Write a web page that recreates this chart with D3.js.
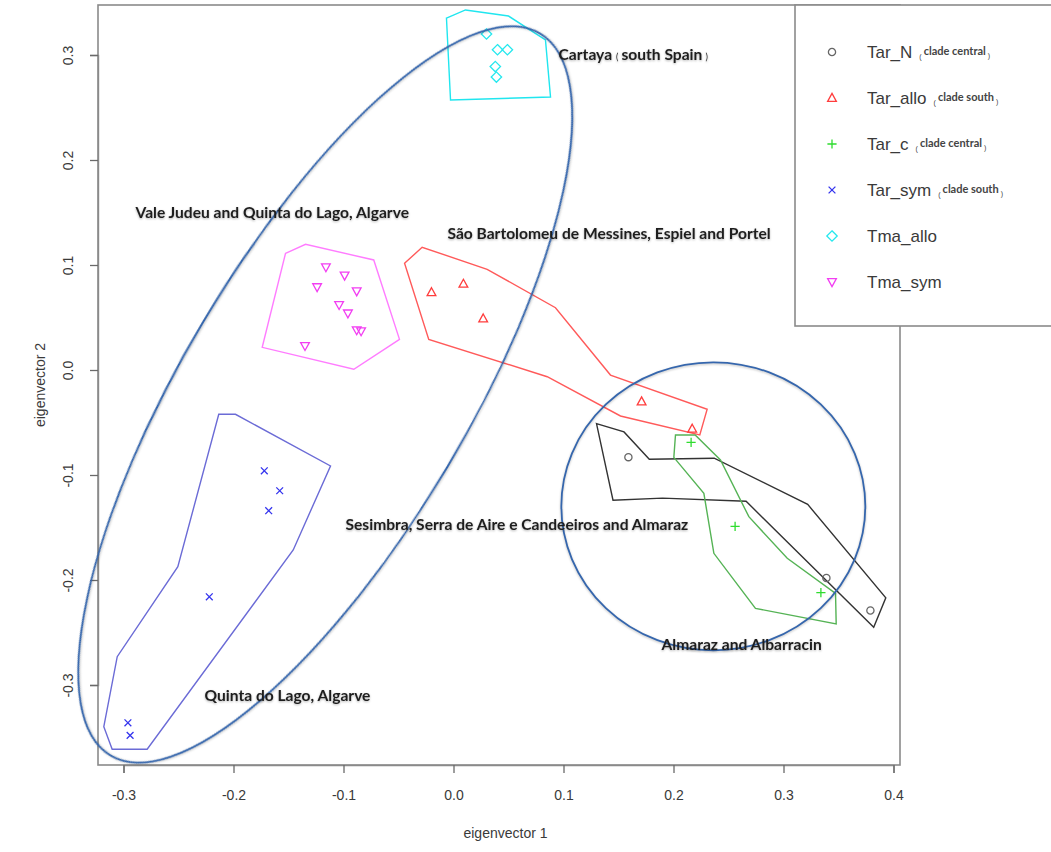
<!DOCTYPE html>
<html>
<head>
<meta charset="utf-8">
<script src="https://cdn.jsdelivr.net/npm/d3@7"></script>
<style>
  html, body { margin: 0; padding: 0; background: #fff; }
  svg { display: block; }
</style>
</head>
<body>
<svg id="chart" width="1051" height="852"></svg>
<script>
// ---- groups and legend ----
const groups = ["Tar_N", "Tar_allo", "Tar_c", "Tar_sym", "Tma_allo", "Tma_sym"];
const cladeNotes = ["clade central", "clade south", "clade central", "clade south", "", ""];

// ---- scores on the first two eigenvectors ----
const tarN_ev1 = [0.159, 0.339, 0.379];
const tarN_ev2 = [-0.083, -0.198, -0.229];
const tarAllo_ev1 = [-0.020, 0.009, 0.027, 0.171, 0.217];
const tarAllo_ev2 = [0.074, 0.082, 0.049, -0.030, -0.056];
const tarC_ev1 = [0.216, 0.256, 0.334];
const tarC_ev2 = [-0.069, -0.149, -0.212];
const tarSym_ev1 = [-0.172, -0.158, -0.168, -0.222, -0.296, -0.294];
const tarSym_ev2 = [-0.096, -0.115, -0.134, -0.216, -0.336, -0.348];
const tmaAllo_ev1 = [0.030, 0.040, 0.049, 0.038, 0.039];
const tmaAllo_ev2 = [0.320, 0.305, 0.305, 0.289, 0.279];
const tmaSym_ev1 = [-0.116, -0.099, -0.124, -0.088, -0.104, -0.096, -0.088, -0.084, -0.135];
const tmaSym_ev2 = [0.098, 0.090, 0.079, 0.075, 0.062, 0.054, 0.038, 0.037, 0.023];

// ---- outline polygons around each group (ev1, ev2) ----
const tarN_outline = [[0.130,-0.051],[0.155,-0.059],[0.178,-0.085],[0.237,-0.084],[0.322,-0.128],[0.393,-0.217],[0.382,-0.245],[0.266,-0.125],[0.190,-0.122],[0.145,-0.124]];
const tarAllo_outline = [[-0.0445,0.1016],[-0.0285,0.1169],[0.0306,0.0959],[0.0927,0.0593],[0.1427,-0.0048],[0.2306,-0.0374],[0.2239,-0.0619],[0.1518,-0.0438],[0.0852,-0.0064],[-0.0225,0.0292]];
const tarC_outline = [[0.2018,-0.0619],[0.2197,-0.0619],[0.2427,-0.0857],[0.2685,-0.1397],[0.3034,-0.1793],[0.3473,-0.2127],[0.3479,-0.2419],[0.2745,-0.2270],[0.2367,-0.1746],[0.2276,-0.1175],[0.2003,-0.0832]];
const tarSym_outline = [[-0.2134,-0.0422],[-0.1982,-0.0422],[-0.1118,-0.0914],[-0.1457,-0.1714],[-0.2785,-0.3612],[-0.3103,-0.3612],[-0.3179,-0.3397],[-0.3057,-0.2730],[-0.2506,-0.1873]];
const tmaAllo_outline = [[-0.0064,0.3352],[0.0109,0.3429],[0.050,0.3371],[0.0836,0.3143],[0.0882,0.2600],[-0.0027,0.2571]];
const tmaSym_outline = [[-0.1527,0.1111],[-0.1345,0.1197],[-0.0725,0.1048],[-0.0491,0.0292],[-0.0906,0.0007],[-0.1739,0.0216]];

// ---- axis ticks ----
const xTicks = [-0.3, -0.2, -0.1, 0.0, 0.1, 0.2, 0.3, 0.4];
const yTicks = [-0.3, -0.2, -0.1, 0.0, 0.1, 0.2, 0.3];

// ---- locality labels (left x, baseline y in ev units) ----
const placeNames = ["Cartaya", "Vale Judeu and Quinta do Lago, Algarve", "São Bartolomeu de Messines, Espiel and Portel",
                    "Sesimbra, Serra de Aire e Candeeiros and Almaraz", "Almaraz and Albarracin", "Quinta do Lago, Algarve"];
const placeNotes = ["south Spain", "", "", "", "", ""];
const place_ev1 = [0.0955, -0.2891, -0.0055, -0.0982, 0.1891, -0.2264];
const place_ev2 = [0.2948, 0.1443, 0.1243, -0.1528, -0.2662, -0.3157];

// ---- encircled regions (centre in ev units) ----
const region_ev1 = [-0.1166, 0.2362];
const region_ev2 = [-0.0233, -0.1298];

// ------------------------------------------------------------------
const svg = d3.select("#chart");
const frame = { left: 98, top: 5, right: 900, bottom: 765 };

const x = d3.scaleLinear().domain([-0.3, 0.4]).range([123.5, 893.5]);
const y = d3.scaleLinear().domain([-0.3, 0.3]).range([685, 55]);

const pointColors = ["#666666", "#ff3d3d", "#2fdc2f", "#3434ee", "#25e8ee", "#f23ef2"];
const outlineColors = ["#333333", "#ff5a5a", "#55b355", "#6b6bd6", "#20e6ef", "#ff7cff"];

const ev1 = [tarN_ev1, tarAllo_ev1, tarC_ev1, tarSym_ev1, tmaAllo_ev1, tmaSym_ev1];
const ev2 = [tarN_ev2, tarAllo_ev2, tarC_ev2, tarSym_ev2, tmaAllo_ev2, tmaSym_ev2];
const outlines = [tarN_outline, tarAllo_outline, tarC_outline, tarSym_outline, tmaAllo_outline, tmaSym_outline];

// plotting symbols in the style of R's pch 1, 2, 3, 4, 5, 6
function symbolPath(i) {
  const s = 4.6;
  switch (i) {
    case 0: { const r = 3.6; return `M${r},0A${r},${r} 0 1,1 ${-r},0A${r},${r} 0 1,1 ${r},0Z`; }
    case 1: return `M0,${-s}L${s*0.95},${s*0.72}L${-s*0.95},${s*0.72}Z`;
    case 2: return `M${-s},0H${s}M0,${-s}V${s}`;
    case 3: { const a = 3.4; return `M${-a},${-a}L${a},${a}M${-a},${a}L${a},${-a}`; }
    case 4: return `M0,${-s-0.6}L${s+0.6},0L0,${s+0.6}L${-s-0.6},0Z`;
    case 5: return `M0,${s}L${s*0.95},${-s*0.72}L${-s*0.95},${-s*0.72}Z`;
  }
}

// frame
svg.append("rect")
  .attr("x", frame.left).attr("y", frame.top)
  .attr("width", frame.right - frame.left).attr("height", frame.bottom - frame.top)
  .attr("fill", "none").attr("stroke", "#8a8a8a").attr("stroke-width", 1.6);

// axes
const tickFmt = d3.format(".1f");
const xAxis = svg.append("g")
  .attr("transform", `translate(0,${frame.bottom})`)
  .call(d3.axisBottom(x).tickValues(xTicks).tickFormat(d => tickFmt(d).replace("−", "-")).tickSizeOuter(0).tickSize(8).tickPadding(17));
const yAxis = svg.append("g")
  .attr("transform", `translate(${frame.left},0)`)
  .call(d3.axisLeft(y).tickValues(yTicks).tickFormat(d => tickFmt(d).replace("−", "-")).tickSizeOuter(0).tickSize(8));

[xAxis, yAxis].forEach(g => {
  g.select(".domain").attr("stroke", "#8a8a8a").attr("stroke-width", 1.4);
  g.selectAll(".tick line").attr("stroke", "#6a6a6a").attr("stroke-width", 1.3);
  g.selectAll(".tick text")
    .attr("fill", "#3a3a3a")
    .style("font-family", "'Liberation Sans', Arial, sans-serif")
    .style("font-size", "14px");
});
yAxis.selectAll(".tick text")
  .attr("x", null).attr("dy", null)
  .attr("text-anchor", "middle")
  .attr("transform", "translate(-30,0) rotate(-90)")
  .attr("dy", "0.35em");

// axis titles
svg.append("text")
  .attr("x", (x(-0.3) + x(0.4)) / 2 - 3).attr("y", 838)
  .attr("text-anchor", "middle")
  .attr("fill", "#3a3a3a")
  .style("font-family", "'Liberation Sans', Arial, sans-serif").style("font-size", "14px")
  .text("eigenvector 1");
svg.append("text")
  .attr("transform", `translate(45,${y(0) + 15}) rotate(-90)`)
  .attr("text-anchor", "middle")
  .attr("fill", "#3a3a3a")
  .style("font-family", "'Liberation Sans', Arial, sans-serif").style("font-size", "14px")
  .text("eigenvector 2");

// group outlines
const line = d3.line().x(d => x(d[0])).y(d => y(d[1])).curve(d3.curveLinearClosed);
const plot = svg.append("g");
outlines.forEach((pts, i) => {
  plot.append("path")
    .attr("d", line(pts))
    .attr("fill", "none")
    .attr("stroke", outlineColors[i])
    .attr("stroke-width", 1.4)
    .attr("stroke-linejoin", "miter");
});

// points
groups.forEach((g, i) => {
  const data = d3.zip(ev1[i], ev2[i]);
  plot.selectAll(null).data(data).enter().append("path")
    .attr("transform", d => `translate(${x(d[0])},${y(d[1])})`)
    .attr("d", symbolPath(i))
    .attr("fill", "none")
    .attr("stroke", pointColors[i])
    .attr("stroke-width", 1.3);
});

// encircled regions
const regionShape = [
  { rx: 420, ry: 142, rot: -59.25 },
  { rx: 152, ry: 144, rot: 0 }
];
region_ev1.forEach((cx, i) => {
  svg.append("ellipse")
    .attr("transform", `translate(${x(cx)},${y(region_ev2[i])}) rotate(${regionShape[i].rot})`)
    .attr("rx", regionShape[i].rx).attr("ry", regionShape[i].ry)
    .attr("fill", "none")
    .attr("stroke", "#3566ad")
    .attr("stroke-width", 1.8)
    .style("filter", "drop-shadow(0px 1px 1px rgba(0,0,0,0.25))");
});

// locality labels
placeNames.forEach((name, i) => {
  const t = svg.append("text")
    .attr("x", x(place_ev1[i])).attr("y", y(place_ev2[i]))
    .attr("fill", "#1e1e1e")
    .style("font-family", "Lato, 'Open Sans', sans-serif")
    .style("font-weight", "bold")
    .style("font-size", "15.6px")
    .style("filter", "drop-shadow(0px 1px 1px rgba(0,0,0,0.3))");
  t.append("tspan").text(name);
  if (placeNotes[i]) {
    t.append("tspan").attr("dx", 4).style("font-size", "9px").style("font-weight", "normal").text("(");
    t.append("tspan").attr("dx", 3).text(placeNotes[i]);
    t.append("tspan").attr("dx", 3).style("font-size", "9px").style("font-weight", "normal").text(")");
  }
});

// legend
const legend = svg.append("g");
legend.append("rect")
  .attr("x", 795).attr("y", 5).attr("width", 270).attr("height", 321)
  .attr("fill", "#fff").attr("stroke", "#8a8a8a").attr("stroke-width", 1.6);
const rowY = d3.scalePoint().domain(groups).range([52, 282]);
groups.forEach((g, i) => {
  const cy = rowY(g);
  legend.append("path")
    .attr("transform", `translate(832,${cy})`)
    .attr("d", symbolPath(i))
    .attr("fill", "none")
    .attr("stroke", pointColors[i])
    .attr("stroke-width", 1.3);
  const t = legend.append("text")
    .attr("x", 867).attr("y", cy + 6)
    .attr("fill", "#3a3a3a")
    .style("font-family", "'Liberation Sans', Arial, sans-serif")
    .style("font-size", "17px");
  t.append("tspan").text(g);
  if (cladeNotes[i]) {
    t.append("tspan").attr("dx", 7).attr("dy", 1).style("font-size", "7px").text("(");
    t.append("tspan").attr("dx", 2).attr("dy", -4)
      .style("font-family", "Lato, sans-serif").style("font-size", "11px").style("font-weight", "bold")
      .attr("fill", "#444").text(cladeNotes[i]);
    t.append("tspan").attr("dx", 2).attr("dy", 3).style("font-size", "7px").text(")");
  }
});
</script>
</body>
</html>
